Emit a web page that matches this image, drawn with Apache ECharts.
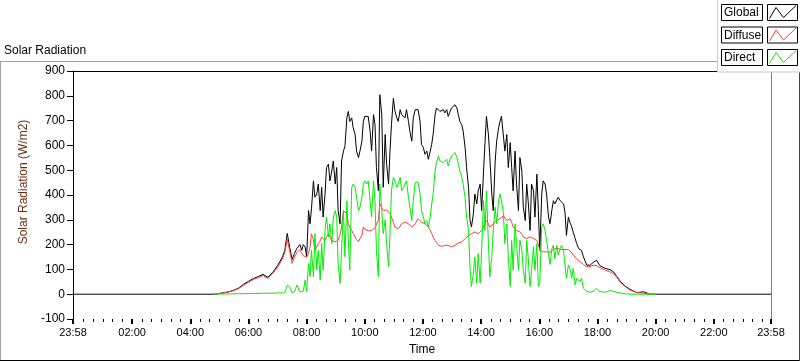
<!DOCTYPE html>
<html><head><meta charset="utf-8">
<script src="https://cdn.jsdelivr.net/npm/echarts@6/dist/echarts.min.js"></script>
<style>html,body{margin:0;padding:0;background:#fff;}#c{width:800px;height:361px;}</style>
</head><body><div id="c"></div>
<script>
// minutes since midnight
const times = [-2,
290,300,310,320,330,340,350,360,370,380,390,400,410,420,430,435,440,445,450,455,460,
466,470,473,477,480,484,487,490,494,497,
501,504,508,511,514,518,521,525,528,532,
535,539,542,545,549,552,556,559,563,566,
569,573,576,580,583,587,590,594,597,600,
604,607,611,614,618,621,624,628,631,635,
638,642,645,649,652,655,659,662,666,669,
673,676,680,683,686,690,693,697,700,704,
707,710,714,717,721,724,728,731,735,738,
741,745,748,752,755,759,762,765,769,772,
776,779,783,786,790,793,796,800,803,807,
810,814,817,820,824,827,831,834,838,841,
845,848,851,855,858,862,865,869,872,876,
879,882,886,889,893,896,900,903,906,910,
913,917,920,924,927,931,934,937,941,944,
948,951,955,958,961,965,968,972,975,979,
982,986,989,992,996,999,1003,1006,1010,1013,
1016,1020,1023,1027,1030,1034,1037,1041,1044,1047,
1051,
1058,1065,1071,1078,1085,1096,1106,1113,1120,1127,1137,1147,1161,1175,1188,1200,
1438];

const globalRad = [0,
0,3,6,10,16,25,40,52,63,71,80,68,88,115,150,177,245,190,140,165,185,
200,177,200,190,152,337,284,344,457,391,
404,444,337,431,311,404,511,524,457,497,
537,444,511,337,284,537,577,597,711,737,
697,711,671,644,577,551,577,617,697,717,
711,717,657,577,724,684,511,417,804,724,
431,644,524,444,577,684,790,740,711,697,
744,724,731,711,744,697,657,617,711,744,
737,744,697,604,591,564,577,544,577,604,
644,724,751,757,737,737,744,731,744,717,
737,751,757,764,751,724,697,684,657,590,
510,430,300,271,324,404,364,417,444,337,
497,611,717,644,551,404,337,537,617,671,
697,717,724,577,644,511,611,511,417,577,
444,337,551,497,351,297,444,377,257,444,
417,311,484,337,177,404,457,444,404,311,
284,340,377,364,380,391,377,370,364,331,
237,311,290,271,250,224,205,184,180,177,
151,
117,117,128,137,115,104,99,90,71,52,33,20,6,10,0,0,
0];

const diffuseRad = [null,
0,3,6,10,15,23,36,48,59,67,75,64,83,108,142,168,222,175,124,150,168,
180,165,155,150,150,165,191,244,220,177,
190,204,215,231,225,217,230,244,230,217,
214,211,214,217,240,271,337,340,324,284,
270,257,245,231,220,211,225,237,271,262,
257,255,257,257,262,268,271,300,364,350,
337,344,340,337,325,311,290,271,266,264,
275,284,288,291,288,284,278,271,278,284,
295,304,298,291,288,284,278,271,258,244,
230,217,207,197,195,193,195,197,197,197,
194,191,194,197,202,207,209,211,218,224,
230,237,240,244,248,251,248,244,250,257,
270,284,297,284,271,278,284,290,297,300,
304,310,317,307,297,300,304,290,271,264,
257,254,251,241,231,228,224,228,231,228,
224,220,217,200,177,174,171,171,171,168,
168,177,184,184,184,184,184,180,177,180,
184,180,177,167,157,150,144,138,131,125,
120,
111,111,117,115,107,97,90,82,68,48,31,17,7,4,0,0,
null];

const directRad = [null,
0,1,1,1,2,2,2,3,3,3,4,4,4,5,5,6,36,30,6,10,37,
10,8,12,57,11,124,71,177,71,244,
97,177,57,204,97,257,311,231,284,204,
311,337,311,124,44,177,337,151,377,217,
97,431,444,431,391,337,351,391,444,457,
444,457,377,311,457,377,177,71,444,337,
244,300,204,111,244,417,471,457,431,444,
471,417,431,444,457,391,351,297,377,451,
444,451,404,337,311,284,297,271,311,364,
404,497,531,557,537,544,531,537,544,517,
544,557,564,571,551,524,497,471,444,385,
311,260,110,31,84,151,44,164,44,177,
377,257,417,204,71,151,257,351,284,377,
404,377,324,204,284,151,31,217,97,284,
204,97,217,177,97,44,217,151,31,97,
191,97,204,31,44,271,284,257,217,164,
120,184,197,144,197,157,184,197,177,117,
64,117,104,64,104,37,64,64,51,64,
24,
11,8,11,24,11,8,15,11,8,5,2,0,0,0,0,0,
null];

const xTickMinutes = [-2,120,240,360,480,600,720,840,960,1080,1200,1320,1438];
const xTickLabels = ['23:58','02:00','04:00','06:00','08:00','10:00','12:00','14:00','16:00','18:00','20:00','22:00','23:58'];
const seriesNames = ['Global','Diffuse','Direct'];
const seriesColors = ['#000000','#ff3c3c','#00ee00'];

const xMinorMinutes = [];
for (let m = 20; m < 1438; m += 20) { if (m % 120 !== 0) xMinorMinutes.push(m); }

const FONT = 'Liberation Sans';
const chart = echarts.init(document.getElementById('c'), null, {renderer:'canvas'});

const seriesData = [globalRad, diffuseRad, directRad];
const series = seriesData.map((vals, si) => ({
  name: seriesNames[si], type:'line', xAxisIndex:0, yAxisIndex:0,
  showSymbol:false, symbol:'none', connectNulls:false,
  lineStyle:{color:seriesColors[si], width:1},
  itemStyle:{color:seriesColors[si]},
  data: times.map((t,i)=>[t, vals[i]])
}));

// legend drawn as LabVIEW-style boxes
const graphics = [];
const line = (x1,y1,x2,y2,c)=>({type:'line', silent:true, shape:{x1,y1,x2,y2}, style:{stroke:c, lineWidth:1}});
graphics.push(line(0,61.5,717,61.5,'#a0a0a0'));
graphics.push(line(0.5,61.5,0.5,360,'#a0a0a0'));
graphics.push(line(0,360.5,800,360.5,'#000'));
graphics.push(line(799.5,72,799.5,361,'#404040'));
graphics.push({type:'rect', silent:true, shape:{x:717.5,y:-1,width:90,height:73}, style:{fill:'#fff', stroke:'#c8c8c8', lineWidth:1}, z:10});
graphics.push({type:'text', left:4, top:45, style:{text:'Solar Radiation', font:'12px '+FONT, fill:'#000'}});
seriesNames.forEach((nm, i)=>{
  const y0 = 4.5 + i*22.5;
  graphics.push({type:'rect', silent:true, z:11, shape:{x:721.5,y:y0,width:41,height:16}, style:{fill:'#fff', stroke:'#000', lineWidth:1}});
  graphics.push({type:'text', silent:true, z:12, x:724, y:y0+8.5, style:{text:nm, font:'12px '+FONT, fill:'#000', textVerticalAlign:'middle', verticalAlign:'middle'}});
  graphics.push({type:'rect', silent:true, z:11, shape:{x:767.5,y:y0,width:30,height:16}, style:{fill:'#fff', stroke:'#000', lineWidth:1}});
  graphics.push({type:'polyline', silent:true, z:12, shape:{points:[[769.5,y0+14],[776,y0+3],[783.5,y0+13],[796,y0+1]]}, style:{stroke:seriesColors[i], lineWidth:1, fill:null}});
});

const option = {
  animation:false,
  backgroundColor:'#fff',
  textStyle:{fontFamily:FONT},
  grid:{left:73, top:71, width:698, height:250, containLabel:false},
  xAxis:[
    {type:'value', min:-2, max:1438, position:'bottom',
     axisLine:{show:false, onZero:false}, splitLine:{show:false},
     axisTick:{show:true, customValues:xTickMinutes, length:5, lineStyle:{color:'#000', width:2}},
     axisLabel:{show:true, customValues:xTickMinutes, margin:8, color:'#000', fontFamily:FONT, fontSize:11,
       formatter:v=>{const k=xTickMinutes.indexOf(v); return k>=0?xTickLabels[k]:'';}},
     name:'Time', nameLocation:'middle', nameGap:25, nameTextStyle:{color:'#000', fontFamily:FONT, fontSize:12}},
    {type:'value', min:-2, max:1438, position:'bottom',
     axisLine:{show:false, onZero:false}, splitLine:{show:false},
     axisTick:{show:true, customValues:xMinorMinutes, length:3, lineStyle:{color:'#000', width:1}},
     axisLabel:{show:false}},
    {type:'value', min:-2, max:1438, position:'top',
     axisLine:{show:true, onZero:false, lineStyle:{color:'#000', width:1}}, splitLine:{show:false},
     axisTick:{show:false}, axisLabel:{show:false}}
  ],
  yAxis:[
    {type:'value', min:-100, max:900, interval:100, position:'left',
     axisLine:{show:true, onZero:false, lineStyle:{color:'#000', width:1}}, splitLine:{show:false},
     axisTick:{show:true, length:6, lineStyle:{color:'#000'}},
     axisLabel:{margin:8, color:'#000', fontFamily:FONT, fontSize:12},
     name:'Solar Radiation (W/m2)', nameLocation:'middle', nameGap:36,
     nameTextStyle:{color:'#6b2f0f', fontFamily:FONT, fontSize:12, padding:[0,0,0,26]}},
    {type:'value', min:-100, max:900, interval:100, position:'right',
     axisLine:{show:true, onZero:false, lineStyle:{color:'#808080', width:1}}, splitLine:{show:false},
     axisTick:{show:false}, axisLabel:{show:false}}
  ],
  graphic: graphics,
  series: series
};
chart.setOption(option);
</script></body></html>
